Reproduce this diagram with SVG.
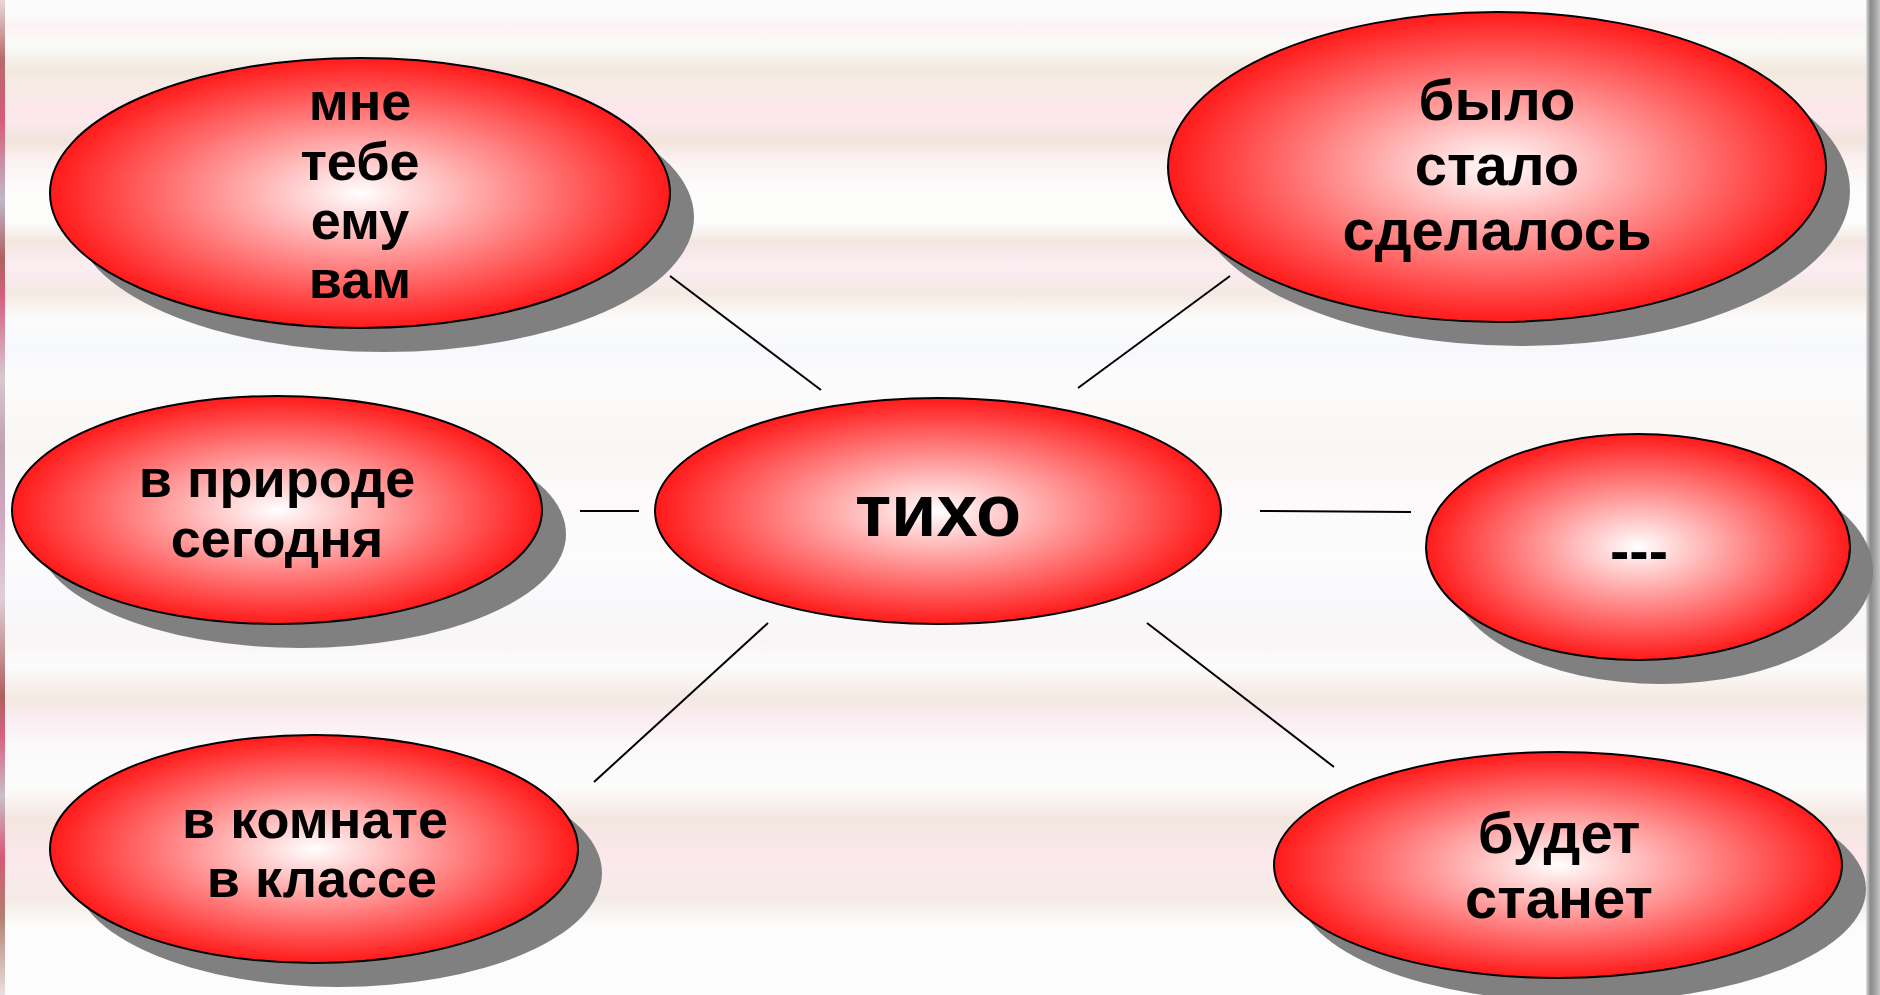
<svg xmlns="http://www.w3.org/2000/svg" width="1880" height="995" viewBox="0 0 1880 995">
<defs>
<linearGradient id="bg" gradientUnits="userSpaceOnUse" x1="0" y1="0" x2="0" y2="995">
<stop offset="0" stop-color="#fbfbfd"/>
<stop offset="0.015" stop-color="#fbfbfc"/>
<stop offset="0.025" stop-color="#fdf2f4"/>
<stop offset="0.045" stop-color="#fafbf8"/>
<stop offset="0.072" stop-color="#f2e8de"/>
<stop offset="0.085" stop-color="#f6ece4"/>
<stop offset="0.108" stop-color="#fde6ec"/>
<stop offset="0.122" stop-color="#fce8ed"/>
<stop offset="0.142" stop-color="#f1e4dc"/>
<stop offset="0.16" stop-color="#fcf1f1"/>
<stop offset="0.19" stop-color="#fcfcfc"/>
<stop offset="0.225" stop-color="#fcfcfb"/>
<stop offset="0.242" stop-color="#f3e6e0"/>
<stop offset="0.267" stop-color="#fbedf2"/>
<stop offset="0.295" stop-color="#f5e9e3"/>
<stop offset="0.32" stop-color="#fcfcfc"/>
<stop offset="0.35" stop-color="#f7f8fc"/>
<stop offset="0.38" stop-color="#fcfcfc"/>
<stop offset="0.45" stop-color="#f9f6f3"/>
<stop offset="0.5" stop-color="#fcfafb"/>
<stop offset="0.56" stop-color="#fcfcfc"/>
<stop offset="0.6" stop-color="#f8f9fc"/>
<stop offset="0.645" stop-color="#f9f5f5"/>
<stop offset="0.67" stop-color="#fcfcfc"/>
<stop offset="0.702" stop-color="#f4e8e2"/>
<stop offset="0.725" stop-color="#fbeef3"/>
<stop offset="0.75" stop-color="#fbf9f9"/>
<stop offset="0.79" stop-color="#fcfcfc"/>
<stop offset="0.823" stop-color="#f3e6df"/>
<stop offset="0.855" stop-color="#fbe6ea"/>
<stop offset="0.875" stop-color="#fbe9ec"/>
<stop offset="0.905" stop-color="#f4ebe5"/>
<stop offset="0.93" stop-color="#fcfcfc"/>
<stop offset="1" stop-color="#fcfcfc"/>
</linearGradient>
<linearGradient id="leftStrip" x1="0" y1="0" x2="0" y2="1">
<stop offset="0" stop-color="#e8d8d8"/>
<stop offset="0.06" stop-color="#b86a6a"/>
<stop offset="0.12" stop-color="#d85a78"/>
<stop offset="0.2" stop-color="#c0b8c8"/>
<stop offset="0.26" stop-color="#b06060"/>
<stop offset="0.3" stop-color="#d86080"/>
<stop offset="0.38" stop-color="#d8c8d0"/>
<stop offset="0.45" stop-color="#c0a0b0"/>
<stop offset="0.52" stop-color="#d0a8c0"/>
<stop offset="0.6" stop-color="#e0d0d8"/>
<stop offset="0.7" stop-color="#b06060"/>
<stop offset="0.74" stop-color="#d86080"/>
<stop offset="0.8" stop-color="#c8c0c8"/>
<stop offset="0.86" stop-color="#d85878"/>
<stop offset="0.92" stop-color="#b08070"/>
<stop offset="1" stop-color="#e8e0e0"/>
</linearGradient>
<linearGradient id="rightStrip" x1="0" y1="0" x2="1" y2="0">
<stop offset="0" stop-color="#e0e0e0"/>
<stop offset="0.3" stop-color="#8c8c8c"/>
<stop offset="0.55" stop-color="#9a9a9a"/>
<stop offset="1" stop-color="#c4c4c4"/>
</linearGradient>
<radialGradient id="fillRed" cx="0.5" cy="0.5" r="0.5">
<stop offset="0" stop-color="#ffffff"/>
<stop offset="1" stop-color="#ff1a1a"/>
</radialGradient>
<style>
.shadow { fill: #808080; }
.bubble { fill: url(#fillRed); stroke: #000000; stroke-width: 2; }
.lbl { font-family: "Liberation Sans", Arial, sans-serif; font-weight: bold; fill: #000000; text-anchor: middle; }
.conn { stroke: #000000; stroke-width: 2; fill: none; }
</style>
</defs>

<rect x="0" y="0" width="1880" height="995" fill="url(#bg)"/>
<rect x="0" y="0" width="5" height="995" fill="url(#leftStrip)"/>
<rect x="1866" y="0" width="14" height="995" fill="url(#rightStrip)"/>

<g id="connectors">
<line class="conn" x1="670" y1="276" x2="821" y2="390"/>
<line class="conn" x1="1078" y1="388" x2="1230" y2="276"/>
<line class="conn" x1="580" y1="511" x2="639" y2="511"/>
<line class="conn" x1="1260" y1="511" x2="1411" y2="512"/>
<line class="conn" x1="768" y1="623" x2="594" y2="782"/>
<line class="conn" x1="1147" y1="623" x2="1334" y2="767"/>
</g>

<g id="node-dative">
<ellipse class="shadow" cx="384" cy="217" rx="310" ry="135"/>
<ellipse class="bubble" cx="360" cy="193" rx="310" ry="135"/>
<text class="lbl" font-size="54" x="360" y="120">мне</text>
<text class="lbl" font-size="54" x="360" y="180">тебе</text>
<text class="lbl" font-size="54" x="360" y="239">ему</text>
<text class="lbl" font-size="54" x="360" y="298">вам</text>
</g>

<g id="node-past">
<ellipse class="shadow" cx="1521" cy="191" rx="329" ry="155"/>
<ellipse class="bubble" cx="1497" cy="167" rx="329" ry="155"/>
<text class="lbl" font-size="58" x="1497" y="120">было</text>
<text class="lbl" font-size="58" x="1497" y="185">стало</text>
<text class="lbl" font-size="58" x="1497" y="250">сделалось</text>
</g>

<g id="node-place">
<ellipse class="shadow" cx="301" cy="534" rx="265" ry="114"/>
<ellipse class="bubble" cx="277" cy="510" rx="265" ry="114"/>
<text class="lbl" font-size="54" x="277" y="497">в природе</text>
<text class="lbl" font-size="54" x="277" y="557">сегодня</text>
</g>

<g id="node-center">
<ellipse class="bubble" cx="938" cy="511" rx="283" ry="113"/>
<text class="lbl" font-size="74" x="938" y="536">тихо</text>
</g>

<g id="node-dash">
<ellipse class="shadow" cx="1661" cy="571" rx="212" ry="113"/>
<ellipse class="bubble" cx="1638" cy="547" rx="212" ry="113"/>
<text class="lbl" font-size="58" x="1639" y="571">---</text>
</g>

<g id="node-room">
<ellipse class="shadow" cx="338" cy="873" rx="264" ry="114"/>
<ellipse class="bubble" cx="314" cy="849" rx="264" ry="114"/>
<text class="lbl" font-size="54" x="315" y="838">в комнате</text>
<text class="lbl" font-size="54" x="322" y="897">в классе</text>
</g>

<g id="node-future">
<ellipse class="shadow" cx="1582" cy="889" rx="284" ry="113"/>
<ellipse class="bubble" cx="1558" cy="865" rx="284" ry="113"/>
<text class="lbl" font-size="58" x="1559" y="853">будет</text>
<text class="lbl" font-size="58" x="1559" y="918">станет</text>
</g>
</svg>
